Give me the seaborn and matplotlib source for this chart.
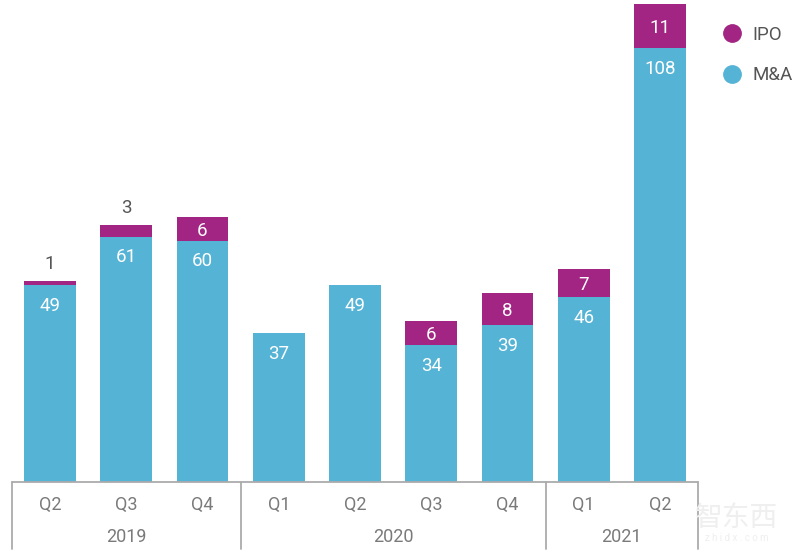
import pandas as pd
import seaborn as sns
import matplotlib.pyplot as plt
from matplotlib.lines import Line2D

# Chart data
periods = ['2019 Q2', '2019 Q3', '2019 Q4', '2020 Q1', '2020 Q2', '2020 Q3', '2020 Q4', '2021 Q1', '2021 Q2']
quarters = ['Q2', 'Q3', 'Q4', 'Q1', 'Q2', 'Q3', 'Q4', 'Q1', 'Q2']
ma_deals = [49, 61, 60, 37, 49, 34, 39, 46, 108]
ipo_deals = [1, 3, 6, 0, 0, 6, 8, 7, 11]
years = ['2019', '2020', '2021']
year_centers = [1, 4.5, 7.5]
year_edges = [-0.5, 2.5, 6.5, 8.5]

BLUE = '#55B3D5'
PURPLE = '#A22483'
GREY = '#7A7A7A'
LINE = '#ABABAB'

sns.set_theme(style='white')
plt.rcParams['font.family'] = ['Liberation Sans Narrow', 'Roboto', 'DejaVu Sans']

df = pd.DataFrame({'period': periods, 'ma': ma_deals, 'ipo': ipo_deals})
df['total'] = df.ma + df.ipo

fig = plt.figure(figsize=(8, 5.58), dpi=100)
ax = fig.add_axes([12 / 800, 76 / 558, 686 / 800, 482 / 558])

# stacked look: totals behind, M&A on top
sns.barplot(data=df, x='period', y='total', color=PURPLE, saturation=1, width=0.68, linewidth=0, ax=ax)
sns.barplot(data=df, x='period', y='ma', color=BLUE, saturation=1, width=0.68, linewidth=0, ax=ax)

ax.set_xlim(-0.5, 8.5)
ax.set_ylim(0, 120)
ax.set_xlabel('')
ax.set_ylabel('')
ax.set_yticks([])
ax.set_xticks(range(len(quarters)))
ax.set_xticklabels(quarters, fontsize=13, color=GREY)
ax.tick_params(axis='x', length=0, pad=10)
sns.despine(ax=ax, left=True, bottom=True)

# value labels
for i, (ma, ipo) in enumerate(zip(ma_deals, ipo_deals)):
    ax.text(i, ma - 5.1, str(ma), color='white', fontsize=13.5, ha='center', va='center')
    if ipo == 0:
        continue
    if ipo < 4:
        ax.text(i, ma + ipo + 4.3, str(ipo), color='#555555', fontsize=13.5, ha='center', va='center')
    else:
        ax.text(i, ma + ipo / 2 - 0.5, str(ipo), color='white', fontsize=13.5, ha='center', va='center')

# multi-level axis frame under the bars
trans = ax.get_xaxis_transform()
ax.plot([-0.5, 8.5], [0, 0], color=LINE, lw=1.3, transform=trans, clip_on=False)
for edge in year_edges:
    ax.plot([edge, edge], [0, -67 / 482], color=LINE, lw=1.3, transform=trans, clip_on=False)
for year, center in zip(years, year_centers):
    ax.text(center, -55 / 482, year, color=GREY, fontsize=13, ha='center', va='center', transform=trans)

# legend
handles = [
    Line2D([], [], ls='', marker='o', ms=12.5, color=PURPLE, label='IPO'),
    Line2D([], [], ls='', marker='o', ms=12.5, color=BLUE, label='M&A'),
]
fig.legend(handles=handles, loc='upper left', bbox_to_anchor=(696 / 800, 1 - 9 / 558), frameon=False,
           fontsize=13.5, labelspacing=1.2, handletextpad=0.1, labelcolor='#555555')

# watermark
fig.text(737 / 800, 1 - 518 / 558, '智东西', family=['Noto Sans CJK SC', 'DejaVu Sans'], fontsize=20,
         color='#EFEFEF', ha='center', va='center')
fig.text(737 / 800, 1 - 538 / 558, 'z h i d x . c o m', fontsize=7, color='#EFEFEF', ha='center', va='center')

plt.savefig('out.png', dpi=100)
